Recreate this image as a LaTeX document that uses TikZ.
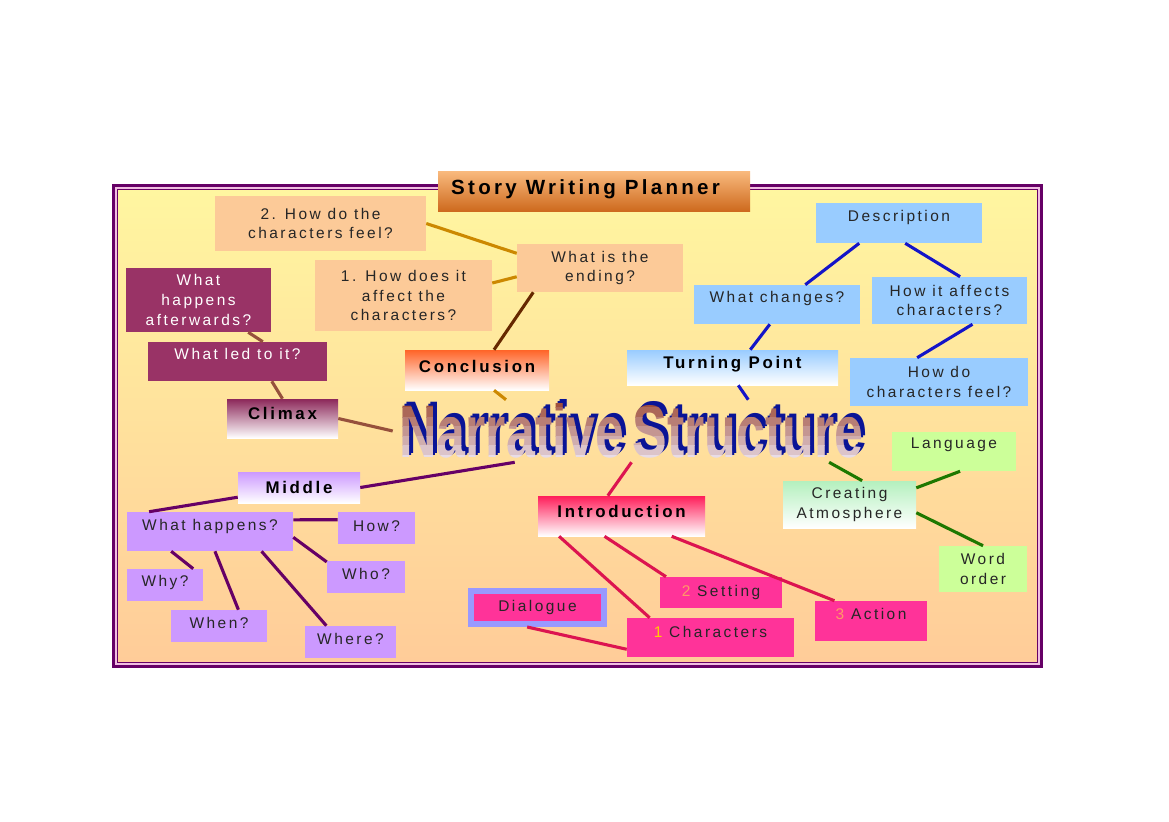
\documentclass[tikz,border=0pt]{standalone}
\usepackage{fontspec}
\usepackage{graphicx}
\setmainfont{Liberation Sans}[LetterSpace=16]
\newfontfamily\artfont{Liberation Sans}
\usetikzlibrary{positioning,calc}
\definecolor{FrameLine}{RGB}{102,0,102}
\definecolor{FrameGap}{RGB}{240,190,225}
\definecolor{FrameTop}{RGB}{255,246,160}
\definecolor{FrameBot}{RGB}{255,204,153}
\definecolor{TitleTop}{RGB}{249,186,126}
\definecolor{TitleBot}{RGB}{206,106,30}
\definecolor{Peach}{RGB}{252,202,152}
\definecolor{Maroon}{RGB}{153,51,102}
\definecolor{SkyBox}{RGB}{153,204,255}
\definecolor{Lilac}{RGB}{204,153,255}
\definecolor{HotPink}{RGB}{255,51,153}
\definecolor{Periwinkle}{RGB}{153,153,255}
\definecolor{Mint}{RGB}{204,255,153}
\definecolor{MintTop}{RGB}{180,240,190}
\definecolor{ConclTop}{RGB}{255,100,40}
\definecolor{ClimaxTop}{RGB}{140,40,90}
\definecolor{IntroTop}{RGB}{255,30,90}
\definecolor{NumYellow}{RGB}{255,204,0}
\definecolor{NumOrange}{RGB}{255,153,102}
\definecolor{LinkGold}{RGB}{204,136,0}
\definecolor{LinkBrown}{RGB}{102,40,0}
\definecolor{LinkClimax}{RGB}{150,80,60}
\definecolor{LinkPlum}{RGB}{102,0,102}
\definecolor{LinkRed}{RGB}{220,20,80}
\definecolor{LinkBlue}{RGB}{20,20,200}
\definecolor{LinkGreen}{RGB}{30,120,0}
\definecolor{ArtBlue}{RGB}{10,20,150}
\definecolor{ArtBrown}{RGB}{160,80,60}
\definecolor{ArtPale}{RGB}{240,235,250}
\newcommand\pxu{0.025cm}
\newcommand\narrtext{\resizebox{11.6cm}{1.35cm}{\artfont\bfseries Narrative\hspace{-0.12em} Structure}}
\tikzset{
  box/.style={inner sep=0pt,align=center,text=black!85,font=\fontsize{11}{14}\selectfont},
  wh/.style 2 args={minimum width=#1*\pxu,minimum height=#2*\pxu},
  lift/.style={text depth=#1*\pxu},
  head/.style={box,font=\fontsize{12}{14}\selectfont\bfseries,text=black},
  peachbox/.style={box,fill=Peach},
  plumbox/.style={box,fill=Maroon,text=white},
  skybox/.style={box,fill=SkyBox},
  lilacbox/.style={box,fill=Lilac},
  magbox/.style={box,fill=HotPink},
  mintbox/.style={box,fill=Mint},
  link/.style={line width=2.2pt},
}

\begin{document}
\begin{tikzpicture}[x=\pxu,y=-\pxu]
\useasboundingbox[fill=white] (0,0) rectangle (1169,821);
% frame
\draw[FrameLine,line width=3*\pxu,fill=FrameGap] (113.5,185.5) rectangle (1041.5,666.5);
\draw[FrameLine,line width=1*\pxu,top color=FrameTop,bottom color=FrameBot] (117.5,189.5) rectangle (1037.5,662.5);
\node[head,wh={312}{40},lift=8,top color=TitleTop,bottom color=TitleBot,font=\fontsize{14.6}{17}\selectfont\bfseries] (title) at (594,191) {Story Writing Planner\hspace{12pt}};
% conclusion
\node[peachbox,wh={211}{55}] (feel) at (320.5,223.5) {2. How do the\\characters feel?};
\node[peachbox,wh={177}{71}] (affect) at (403.5,295.5) {1. How does it\\affect the\\characters?};
\node[peachbox,wh={166}{48}] (ending) at (600,268) {What is the\\ending?};
\node[head,wh={144}{40},lift=8,top color=ConclTop,bottom color=white] (concl) at (477,370) {Conclusion};
% climax
\node[plumbox,wh={145}{64}] (after) at (198.5,300) {What\\happens\\afterwards?};
\node[plumbox,wh={179}{39},lift=15] (led) at (237.5,361.5) {What led to it?};
\node[head,wh={111}{39},lift=11,top color=ClimaxTop,bottom color=white] (climax) at (282.5,418.5) {Climax};
% turning point
\node[skybox,wh={166}{40},lift=14] (desc) at (899,223) {Description};
\node[skybox,wh={166}{39},lift=16] (changes) at (777,304.5) {What changes?};
\node[skybox,wh={155}{47}] (affects) at (949.5,300.5) {How it affects\\characters?};
\node[skybox,wh={178}{48}] (feel2) at (939,382) {How do\\characters feel?};
\node[head,wh={211}{35},lift=10,top color=SkyBox,bottom color=white] (turning) at (732.5,367.5) {Turning Point};
% centre
\node[inner sep=0pt,wh={477}{62}] (narr) at (631.5,431) {};
% middle
\node[head,wh={122}{31},top color=Lilac,bottom color=white] (middle) at (299,487.5) {Middle};
\node[lilacbox,wh={166}{39},lift=14] (happens) at (210,531.5) {What happens?};
\node[lilacbox,wh={77}{32},lift=4] (how) at (376.5,528) {How?};
\node[lilacbox,wh={76}{32},lift=8] (why) at (165,585) {Why?};
\node[lilacbox,wh={78}{32},lift=6] (who) at (366,577) {Who?};
\node[lilacbox,wh={96}{32},lift=6] (when) at (219,626) {When?};
\node[lilacbox,wh={91}{32},lift=6] (where) at (350.5,642) {Where?};
% introduction
\node[head,wh={167}{40},lift=10,top color=IntroTop,bottom color=white] (intro) at (621.5,516) {Introduction};
\node[magbox,wh={133}{33},draw=Periwinkle,line width=6*\pxu] (dialogue) at (537.5,607.5) {Dialogue};
\node[magbox,wh={167}{39},lift=11] (chars) at (710.5,637.5) {{\color{NumYellow}1} Characters};
\node[magbox,wh={122}{31}] (setting) at (721,592.5) {{\color{NumOrange}2} Setting};
\node[magbox,wh={112}{40},lift=14] (action) at (871,621) {{\color{NumOrange}3} Action};
% atmosphere
\node[mintbox,wh={124}{39},lift=16] (lang) at (954,451.5) {Language};
\node[box,wh={133}{47},top color=MintTop,bottom color=white] (create) at (849.5,504.5) {Creating\\Atmosphere};
\node[mintbox,wh={88}{46}] (word) at (983,569) {Word\\order};
% links
\draw[link,LinkGold] (feel.east) -- (ending.170);
\draw[link,LinkGold] (affect.8) -- (ending.186);
\draw[link,LinkBrown] (ending.200) -- (concl.50);
\draw[link,LinkGold] (concl.-50) -- (narr.166);
\draw[link,LinkClimax] (after.-33) -- (led.38);
\draw[link,LinkClimax] (led.-30) -- (climax.north);
\draw[link,LinkClimax] (climax.east) -- (narr.west);
\draw[link,LinkPlum] (middle.east) -- (narr.195);
\draw[link,LinkPlum] (middle.189) -- (happens.162);
\draw[link,LinkPlum] (happens.8) -- (how.168);
\draw[link,LinkPlum] (happens.-4) -- (who.159);
\draw[link,LinkPlum] (happens.207) -- (why.30);
\draw[link,LinkPlum] (happens.-76) -- (when.40);
\draw[link,LinkPlum] (happens.-21) -- (where.146);
\draw[link,LinkRed] (narr.south) -- (intro.124);
\draw[link,LinkRed] (intro.198) -- (chars.162);
\draw[link,LinkRed] (intro.230) -- (setting.164);
\draw[link,LinkRed] (intro.-22) -- (action.151);
\draw[link,LinkRed] (dialogue.242) -- (chars.188);
\draw[link,LinkBlue] (turning.-72) -- (narr.15);
\draw[link,LinkBlue] (changes.250) -- (turning.45);
\draw[link,LinkBlue] (desc.207) -- (changes.35);
\draw[link,LinkBlue] (desc.-73) -- (affects.66);
\draw[link,LinkBlue] (affects.-46) -- (feel2.132);
\draw[link,LinkGreen] (narr.-9) -- (create.62);
\draw[link,LinkGreen] (create.14) -- (lang.-73);
\draw[link,LinkGreen] (create.-7) -- (word.north);
% word art title: blue extrusion, then letters shaded in bands
\foreach \d in {2,4}
  \node[inner sep=0pt,text=ArtBlue] at ($(narr.center)+(\d,-\d)$) {\narrtext};
\foreach \i in {0,...,6} {
  \pgfmathtruncatemacro\artmix{100-\i*15}
  \begin{scope}
    \clip (380,{398+\i*9.5}) rectangle (880,{407.5+\i*9.5});
    \node[inner sep=0pt,text=ArtBrown!\artmix!ArtPale] at (narr.center) {\narrtext};
  \end{scope}
}
\end{tikzpicture}
\end{document}
